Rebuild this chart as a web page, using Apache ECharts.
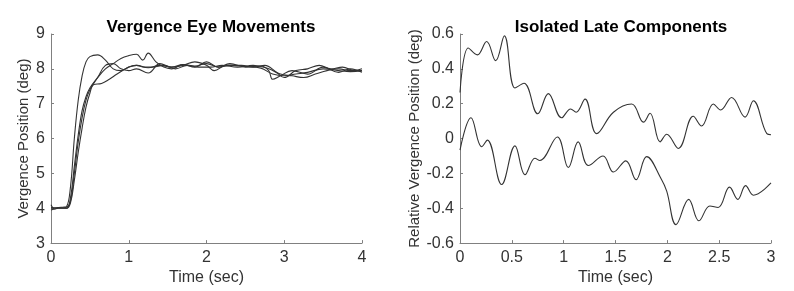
<!DOCTYPE html>
<html>
<head>
<meta charset="utf-8">
<script src="https://cdn.jsdelivr.net/npm/echarts@6/dist/echarts.min.js"></script>
<style>
  html, body { margin: 0; padding: 0; background: #fff; }
  #main { width: 794px; height: 291px; }
</style>
</head>
<body>
<div id="main"></div>
<script>
// left panel: four vergence traces (time in sec, position in deg)
const t1 = [0, 0.05, 0.1, 0.15, 0.2, 0.25, 0.3, 0.35, 0.4, 0.45, 0.5, 0.6, 0.7, 0.8, 0.9, 1.0, 1.1, 1.25, 1.4, 1.55, 1.7, 1.85, 2.0, 2.15, 2.3, 2.5, 2.7, 2.85, 3.0, 3.15, 3.3, 3.5, 3.7, 3.85, 4.0]
const v1 = [4.1, 3.98, 4.02, 4.03, 4.05, 4.6, 6.0, 7.1, 7.8, 8.2, 8.35, 8.4, 8.25, 8.0, 7.95, 8.05, 8.1, 8.03, 8.1, 8.05, 8.12, 8.08, 8.15, 8.05, 8.1, 8.07, 8.02, 7.85, 7.8, 7.85, 7.9, 8.0, 7.95, 7.92, 7.95]
const t2 = [0, 0.1, 0.2, 0.25, 0.3, 0.35, 0.4, 0.45, 0.5, 0.6, 0.7, 0.8, 0.9, 1.0, 1.1, 1.18, 1.25, 1.35, 1.45, 1.55, 1.7, 1.85, 2.0, 2.15, 2.3, 2.5, 2.7, 2.8, 2.85, 2.95, 3.1, 3.3, 3.5, 3.7, 3.85, 4.0]
const v2 = [4.0, 4.02, 4.0, 4.3, 5.2, 6.1, 6.8, 7.2, 7.45, 7.75, 8.0, 8.15, 8.3, 8.38, 8.42, 8.25, 8.45, 8.2, 8.05, 8.0, 8.12, 8.05, 8.2, 8.05, 8.15, 8.05, 8.08, 7.95, 7.7, 7.8, 7.95, 7.85, 8.05, 7.9, 8.0, 7.9]
const t3 = [0, 0.1, 0.2, 0.25, 0.3, 0.35, 0.4, 0.45, 0.5, 0.6, 0.7, 0.8, 0.9, 1.0, 1.1, 1.25, 1.4, 1.55, 1.7, 1.85, 2.0, 2.1, 2.25, 2.45, 2.6, 2.75, 2.9, 3.0, 3.15, 3.3, 3.45, 3.6, 3.75, 3.9, 4.0]
const v3 = [4.02, 4.0, 4.03, 4.2, 5.0, 5.9, 6.6, 7.1, 7.4, 7.75, 8.1, 8.15, 8.0, 7.95, 8.0, 7.88, 8.15, 8.05, 8.1, 8.2, 8.1, 7.95, 8.1, 8.1, 8.05, 8.1, 7.9, 7.75, 7.95, 8.0, 8.1, 8.0, 8.05, 7.95, 8.0]
const t4 = [0, 0.1, 0.2, 0.25, 0.3, 0.35, 0.4, 0.45, 0.5, 0.55, 0.65, 0.75, 0.85, 1.0, 1.1, 1.2, 1.3, 1.45, 1.6, 1.75, 1.9, 2.05, 2.2, 2.4, 2.6, 2.8, 2.95, 3.1, 3.25, 3.4, 3.55, 3.7, 3.85, 4.0]
const v4 = [3.95, 4.0, 4.0, 4.15, 4.8, 5.6, 6.3, 6.9, 7.3, 7.55, 7.58, 7.7, 7.85, 8.05, 8.1, 8.05, 8.05, 8.1, 8.0, 8.1, 8.05, 8.05, 8.1, 8.05, 8.1, 8.0, 7.85, 7.8, 7.75, 7.85, 7.95, 8.0, 7.95, 7.95]

// right panel: isolated late components
const tUp = [0, 0.08, 0.167, 0.257, 0.344, 0.428, 0.53, 0.617, 0.75, 0.852, 0.98, 1.067, 1.12, 1.206, 1.318, 1.48, 1.656, 1.77, 1.833, 1.93, 1.994, 2.106, 2.25, 2.33, 2.444, 2.514, 2.62, 2.75, 2.83, 2.96, 3.0]
const vUp = [0.264, 0.52, 0.48, 0.557, 0.447, 0.589, 0.29, 0.317, 0.142, 0.258, 0.119, 0.17, 0.151, 0.226, 0.028, 0.151, 0.198, 0.094, 0.145, -0.019, 0.025, -0.057, 0.128, 0.072, 0.198, 0.164, 0.236, 0.123, 0.217, 0.028, 0.022]
const tLow = [0, 0.106, 0.209, 0.264, 0.402, 0.53, 0.627, 0.723, 0.77, 0.939, 1.045, 1.14, 1.238, 1.38, 1.48, 1.6, 1.698, 1.8, 1.945, 1.994, 2.084, 2.206, 2.305, 2.41, 2.49, 2.6, 2.68, 2.755, 2.83, 3.0]
const vLow = [-0.066, 0.119, -0.047, -0.009, -0.264, -0.042, -0.208, -0.113, -0.126, 0.009, -0.166, -0.019, -0.155, -0.1, -0.192, -0.128, -0.236, -0.104, -0.236, -0.302, -0.494, -0.349, -0.472, -0.387, -0.396, -0.279, -0.349, -0.27, -0.325, -0.255]

const pairs = (ts, vs) => ts.map((t, i) => [t, vs[i]])

const font = 'Liberation Sans, Arial, sans-serif'
const axisStyle = {
  axisLine: { show: true, onZero: false, lineStyle: { color: '#808080', width: 1 } },
  axisTick: { show: true, inside: true, length: 3, lineStyle: { color: '#808080' } },
  axisLabel: { color: '#333', fontSize: 16, fontFamily: font, margin: 6 },
  splitLine: { show: false },
  nameLocation: 'middle',
  nameTextStyle: { color: '#333', fontSize: 15, fontFamily: font },
}
const line = (data, idx) => ({
  type: 'line',
  data,
  xAxisIndex: idx,
  yAxisIndex: idx,
  showSymbol: false,
  symbol: 'none',
  smooth: 0.4,
  lineStyle: { color: '#333', width: 1.1 },
  silent: true,
})

const chart = echarts.init(document.getElementById('main'))
chart.setOption({
  animation: false,
  title: [
    { text: 'Vergence Eye Movements', left: 206, top: 14, textAlign: 'center',
      textStyle: { fontSize: 17, fontWeight: 'bold', color: '#000', fontFamily: font } },
    { text: 'Isolated Late Components', left: 616, top: 14, textAlign: 'center',
      textStyle: { fontSize: 17, fontWeight: 'bold', color: '#000', fontFamily: font } },
  ],
  grid: [
    { left: 51, top: 34, width: 311, height: 212 },
    { left: 460, top: 34, width: 311, height: 212 },
  ],
  xAxis: [
    { ...axisStyle, type: 'value', gridIndex: 0, min: 0, max: 4, interval: 1, name: 'Time (sec)', nameGap: 24,
      nameTextStyle: { ...axisStyle.nameTextStyle, fontSize: 16 } },
    { ...axisStyle, type: 'value', gridIndex: 1, min: 0, max: 3, interval: 0.5, name: 'Time (sec)', nameGap: 24,
      nameTextStyle: { ...axisStyle.nameTextStyle, fontSize: 16 } },
  ],
  yAxis: [
    { ...axisStyle, type: 'value', gridIndex: 0, min: 3, max: 9, interval: 1, name: 'Vergence Position (deg)', nameGap: 20 },
    { ...axisStyle, type: 'value', gridIndex: 1, min: -0.6, max: 0.6, interval: 0.2, name: 'Relative Vergence Position (deg)', nameGap: 38,
      axisLabel: { ...axisStyle.axisLabel, formatter: v => Math.abs(v) < 1e-9 ? '0' : String(Math.round(v * 10) / 10) } },
  ],
  series: [
    line(pairs(t1, v1), 0),
    line(pairs(t2, v2), 0),
    line(pairs(t3, v3), 0),
    line(pairs(t4, v4), 0),
    line(pairs(tUp, vUp), 1),
    line(pairs(tLow, vLow), 1),
  ],
})
</script>
</body>
</html>
